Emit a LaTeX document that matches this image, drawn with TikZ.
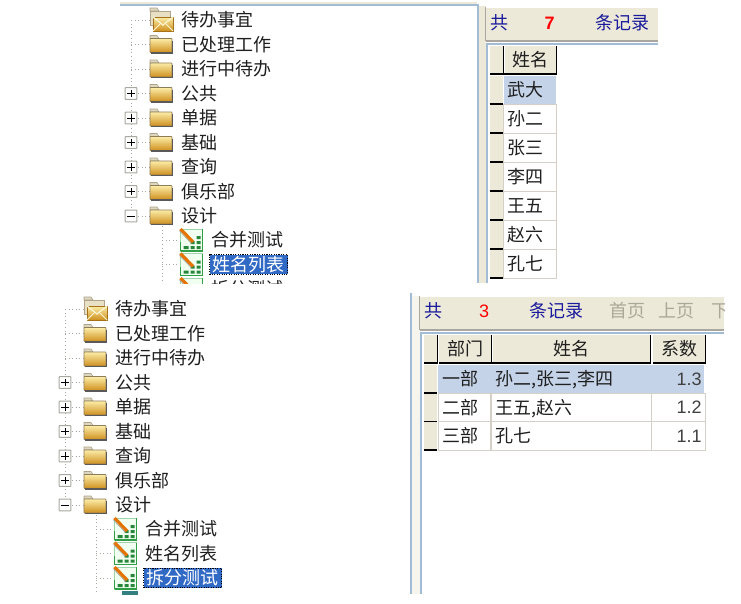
\documentclass[tikz,border=0pt]{standalone}
\usepackage{fontspec}
\setmainfont{Noto Sans CJK SC}
\newfontfamily\latinface{Liberation Sans}
\definecolor{beigeface}{HTML}{ECE9D8}
\definecolor{paneblue}{HTML}{A3BCD6}
\definecolor{selrow}{HTML}{C5D3E8}
\definecolor{selblue}{HTML}{316AC5}
\definecolor{navytext}{HTML}{1A1A9C}
\definecolor{graytext}{HTML}{ACA899}
\definecolor{cellline}{HTML}{D4D0C8}
\definecolor{treegray}{HTML}{A8A8A0}
\definecolor{iconhi}{HTML}{FCEDA8}
\definecolor{iconlo}{HTML}{CF8F1E}
\definecolor{iconedge}{HTML}{8E7C56}
\definecolor{gridgreen}{HTML}{2F9E44}
\tikzset{
  cjk/.style={font=\fontsize{13.5pt}{13.5pt}\selectfont,inner sep=0pt,text height=1.02em,text depth=0em,text=black!88},
  digit/.style={inner sep=0pt,text height=.95em,text depth=0em,text=black!75,font=\latinface\fontsize{13.5pt}{13.5pt}\selectfont},
  label/.style={cjk,anchor=west},
  seltext/.style={cjk,anchor=west,text=white,fill=selblue,inner xsep=2.25pt,inner ysep=2.25pt,
    preaction={draw=orange!80!black,line width=.8pt},draw=black,line width=.8pt,densely dotted},
  treeline/.style={draw=treegray,line width=.7pt,dotted},
  expbox/.style={draw=treegray,fill=white,line width=.75pt,minimum size=8.8pt,inner sep=0pt,rounded corners=.4pt},
  iconbox/.style={minimum width=16.5pt,minimum height=12pt,inner sep=0pt},
  panelline/.style={draw=paneblue,line width=1.5pt},
  headcell/.style={cjk,fill=beigeface,minimum height=20.5pt},
  datacell/.style={cjk,fill=white,draw=cellline,line width=.75pt,minimum height=21.7pt},
  selcell/.style={cjk,fill=selrow,minimum height=21.7pt},
  gutter/.style={fill=beigeface,inner sep=0pt},
  barlabel/.style={cjk,text=navytext},
  offlabel/.style={cjk,text=graytext},
  folderpic/.pic={
    \path[draw=iconedge!70,line width=.5pt,fill=iconhi!55!gray!60] (-11,-6) -- (-11,-9) -- (-4,-9) -- (-2,-6) -- cycle;
    \path[top color=iconhi,bottom color=iconlo,draw=iconedge,line width=.6pt,rounded corners=.5pt] (-11,-6) rectangle (11,8);
    \draw[black!65,line width=.9pt] (-10.5,8.5) -- (11.5,8.5) -- (11.5,-4);
  },
  mailpic/.pic={
    \path[draw=iconedge!70,line width=.5pt,fill=iconhi!55!gray!60] (-11,-9) -- (-11,-12) -- (-4,-12) -- (-2,-9) -- cycle;
    \path[fill=iconhi!70!gray!60,draw=iconedge!70,line width=.5pt] (-11,-9) rectangle (9,5);
    \path[top color=iconhi,bottom color=iconlo,draw=iconlo!80!black,line width=.6pt] (-8,-3) rectangle (12,11);
    \draw[iconhi!50!white,line width=.9pt] (-8,-3) -- (2,5) -- (12,-3);
    \draw[iconhi!50!white,line width=.7pt] (-8,11) -- (-1,4) (12,11) -- (5,4);
  },
  reportpic/.pic={
    \path[fill=green!6,draw=gridgreen!45,line width=.7pt] (-11,-11) rectangle (11,11);
    \draw[gridgreen,line width=1.2pt] (-11,11) -- (11,11) -- (11,-11);
    \draw[gridgreen,line width=.9pt] (-11,11) -- (-11,2);
    \fill[gridgreen!85!black] (-8,6) rectangle (-3,9) (-1,6) rectangle (3,9) (5,6) rectangle (9,9)
      (-1,1) rectangle (3,4) (5,1) rectangle (9,4) (5,-4) rectangle (9,-1);
    \draw[orange!90!black,line width=2.4pt] (-11,-11) -- (1.5,2);
    \draw[black!40,line width=.4pt] (-12,-9) -- (0,3.5);
  },
}
\newcommand{\TreePanel}[2]{%
  \foreach \i/\t/\y in {1/待办事宜/20,2/已处理工作/44.5,3/进行中待办/69,4/公共/93.5,5/单据/118,6/基础/142.5,7/查询/167,8/俱乐部/191.5,9/设计/216}{
    \coordinate (#1v\i) at (131,\y);
    \node[iconbox] (#1f\i) at (161,\y) {};
    \node[label] (#1t\i) at (181,\y) {\t};
  }
  \draw[treeline] (#1v1) -- (#1v9);
  \foreach \i in {1,...,9}{ \draw[treeline] (#1v\i) -- (#1f\i.west); }
  \foreach \i in {4,...,8}{
    \node[expbox] (#1b\i) at (#1v\i) {};
    \draw[black,line width=.7pt] ([xshift=-2.7pt]#1b\i.center) -- ([xshift=2.7pt]#1b\i.center);
    \draw[black,line width=.7pt] ([yshift=-2.7pt]#1b\i.center) -- ([yshift=2.7pt]#1b\i.center);
  }
  \node[expbox] (#1b9) at (#1v9) {};
  \draw[black,line width=.7pt] ([xshift=-2.7pt]#1b9.center) -- ([xshift=2.7pt]#1b9.center);
  \pic at (#1f1) {mailpic};
  \foreach \i in {2,...,9}{ \pic at (#1f\i) {folderpic}; }
  \coordinate (#1ctop) at (162,226);
  \coordinate (#1cend) at (162,303);
  \draw[treeline] (#1ctop) -- (#1cend);
  \foreach \i/\t/\y in {1/合并测试/240,2/姓名列表/264.5,3/拆分测试/289}{
    \coordinate (#1w\i) at (162,\y);
    \node[iconbox,minimum height=16.5pt] (#1r\i) at (191.5,\y) {};
    \draw[treeline] (#1w\i) -- (#1r\i.west);
    \pic at (#1r\i) {reportpic};
    \ifnum\i=#2
      \node[seltext] (#1c\i) at (209,\y) {\t};
    \else
      \node[label] (#1c\i) at (211,\y) {\t};
    \fi
  }
  \fill[teal!60!gray] (188,302) rectangle (204,312);
}
\begin{document}
\begin{tikzpicture}[x=.75pt,y=-.75pt]
\useasboundingbox (0,0) rectangle (741,603);
\fill[white] (0,0) rectangle (741,603);

% upper window: frame
\fill[beigeface] (120,2) rectangle (477,4);
\draw[panelline] (120,5) -- (477.5,5) -- (477.5,283);
\fill[beigeface] (478.5,6) rectangle (486,283);
\fill[beigeface] (486,8) rectangle (658,40);
\draw[cellline!80!black,line width=.9pt] (485.5,41) -- (485.5,7) (485.5,41) -- (658,41);
\draw[panelline] (658,44) -- (486.5,44) -- (486.5,283);

% upper tree
\begin{scope}
  \clip (115,6.5) rectangle (476,283);
  \TreePanel{a}{2}
\end{scope}

% upper toolbar
\node[barlabel] (atb1) at (499,23) {共};
\node[digit,text=red,font=\latinface\fontsize{13.5pt}{13.5pt}\selectfont\bfseries] (atb2) at (549.5,23) {7};
\node[barlabel] (atb3) at (622,23) {条记录};

% upper grid
\node[gutter,minimum width=9.75pt,minimum height=20.5pt] (ah0) at (496.5,60) {};
\draw[black,line width=.9pt] (ah0.north east) -- (ah0.south east) -- (ah0.south west);
\node[headcell,minimum width=39pt] (ah1) at (530.5,60) {姓名};
\draw[black,line width=.9pt] (ah1.north east) -- (ah1.south east) -- (ah1.south west);
\foreach \i/\t/\y in {1/武大/90,2/孙二/119,3/张三/148,4/李四/177,5/王五/206,6/赵六/235,7/孔七/264}{
  \node[gutter,minimum width=9.75pt,minimum height=20.5pt] (am\i) at (496.5,\y) {};
  \draw[black,line width=.9pt] (am\i.south west) -- (am\i.south east);
  \ifnum\i=1
    \node[selcell,minimum width=39.5pt] (ac\i) at (530,\y) {};
  \else
    \node[datacell,minimum width=39.5pt] (ac\i) at (530,\y) {};
  \fi
  \node[label] (at\i) at (507,\y) {\t};
}

% lower window: frame
\draw[panelline] (411,293) -- (411,594);
\fill[beigeface!45] (412,296) rectangle (420,594);
\fill[beigeface] (420,297) rectangle (724,329);
\draw[cellline!80!black,line width=.9pt] (419.5,330) -- (419.5,296) (419.5,330) -- (724,330);
\draw[panelline] (724,333) -- (420.5,333) -- (420.5,594);

% lower tree
\begin{scope}[shift={(-66,289)}]
  \clip (50,5) rectangle (476,305);
  \TreePanel{b}{3}
\end{scope}

% lower toolbar
\begin{scope}
  \clip (420,297) rectangle (724,330);
  \node[barlabel] (btb1) at (433,311) {共};
  \node[digit,text=red] (btb2) at (484,311) {3};
  \node[barlabel] (btb3) at (556,311) {条记录};
  \node[offlabel] (btb4) at (627,311) {首页};
  \node[offlabel] (btb5) at (676,311) {上页};
  \node[offlabel] (btb6) at (729,311) {下页};
\end{scope}

% lower grid
\node[gutter,minimum width=9.75pt,minimum height=20.5pt] (bh0) at (430.5,349) {};
\draw[black,line width=.9pt] (bh0.north east) -- (bh0.south east) -- (bh0.south west);
\foreach \n/\t/\x/\w in {1/部门/465/39,2/姓名/571.5/118.5,3/系数/679/39}{
  \node[headcell,minimum width=\w pt] (bh\n) at (\x,349) {\t};
  \draw[black,line width=.9pt] (bh\n.north east) -- (bh\n.south east) -- (bh\n.south west);
}
\foreach \i/\d/\s/\k/\y in {1/一部/{孙二,张三,李四}/1.3/379,2/二部/{王五,赵六}/1.2/407.5,3/三部/孔七/1.1/436}{
  \node[gutter,minimum width=9.75pt,minimum height=20.5pt] (bm\i) at (430.5,\y) {};
  \draw[black,line width=.9pt] (bm\i.south west) -- (bm\i.south east);
  \ifnum\i=1
    \node[selcell,minimum width=199.5pt] (brow\i) at (571,\y) {};
  \else
    \node[datacell,minimum width=39pt] (bx\i) at (464.5,\y) {};
    \node[datacell,minimum width=120pt] (by\i) at (571,\y) {};
    \node[datacell,minimum width=40.5pt] (bz\i) at (678,\y) {};
  \fi
  \node[label] (bd\i) at (442,\y) {\d};
  \node[label] (bs\i) at (495,\y) {\s};
  \node[digit,anchor=east] (bk\i) at (702,\y) {\k};
}
\end{tikzpicture}
\end{document}
